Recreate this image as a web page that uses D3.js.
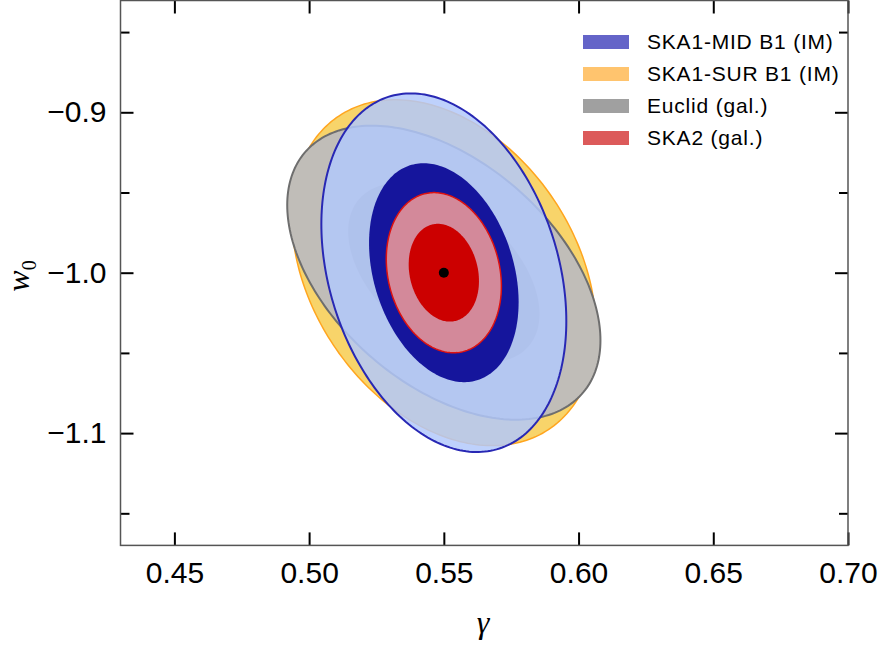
<!DOCTYPE html>
<html>
<head>
<meta charset="utf-8">
<script src="https://cdn.jsdelivr.net/npm/d3@7"></script>
<style>
body { margin: 0; background: #fff; }
text { font-family: "Liberation Sans", Arial, sans-serif; }
</style>
</head>
<body>
<svg id="chart" width="883" height="651"></svg>
<script>
// forecast errors (centre is the fiducial model)
var experiments = ["SKA1-SUR B1 (IM)", "Euclid (gal.)", "SKA1-MID B1 (IM)", "SKA2 (gal.)"];
var sigmaGamma = [0.0227, 0.0234, 0.0183, 0.0086];
var sigmaW0 = [0.0434, 0.0369, 0.0450, 0.0201];
var rho = [-0.32, -0.46, -0.27, -0.17];
var fiducialGamma = 0.55, fiducialW0 = -1.0;
var chi2Levels = [6.17, 2.30];   // 2 sigma then 1 sigma, two parameters

var legendOrder = ["SKA1-MID B1 (IM)", "SKA1-SUR B1 (IM)", "Euclid (gal.)", "SKA2 (gal.)"];
var xTicks = [0.45, 0.50, 0.55, 0.60, 0.65, 0.70];
var yTicks = [-0.9, -1.0, -1.1];
var yMinorTicks = [-0.85, -0.95, -1.05, -1.15];

var styles = {
    "SKA1-SUR B1 (IM)": { outer: "#f8d46a", inner: "#f0b845", stroke: "#ffa51f", width: 1.5, opacity: 1, swatch: "#ffc46e" },
    "Euclid (gal.)":    { outer: "#c0bdb8", inner: "#a3a09a", stroke: "#6e6e6e", width: 2, opacity: 1, swatch: "#a0a0a0" },
    "SKA1-MID B1 (IM)": { outer: "#b2c8fb", inner: "#15159c", stroke: "#2828b4", width: 2, opacity: 0.84, swatch: "#6464c8" },
    "SKA2 (gal.)":      { outer: "#d3899a", inner: "#cc0000", stroke: "#dd1111", width: 1.5, opacity: 1, swatch: "#dc5a5a" }
};

var svg = d3.select('#chart');
var pLeft = 120.5, pRight = 848, pTop = 0.5, pBottom = 545.4;

var x = d3.scaleLinear().domain([0.43, 0.70]).range([pLeft, pRight]);
var y = d3.scaleLinear().domain([-0.83, -1.17]).range([0, pBottom]);

svg.append("clipPath").attr("id", "plotclip")
    .append("rect")
    .attr("x", pLeft).attr("y", pTop)
    .attr("width", pRight - pLeft).attr("height", pBottom - pTop);

function ellipse(i, k) {
    var r = Math.sqrt(k), pts = [];
    var s = Math.sqrt(1 - rho[i] * rho[i]);
    for (var j = 0; j < 240; j++) {
        var t = 2 * Math.PI * j / 240;
        pts.push([fiducialGamma + r * sigmaGamma[i] * Math.cos(t),
                  fiducialW0 + r * sigmaW0[i] * (rho[i] * Math.cos(t) + s * Math.sin(t))]);
    }
    return pts;
}

var line = d3.line()
    .x(function (d) { return x(d[0]); })
    .y(function (d) { return y(d[1]); })
    .curve(d3.curveLinearClosed);

var plot = svg.append("g").attr("clip-path", "url(#plotclip)");

experiments.forEach(function (name, i) {
    var st = styles[name];
    var g = plot.append("g");
    g.append("path")
        .attr("d", line(ellipse(i, chi2Levels[0])))
        .attr("fill", st.outer)
        .attr("fill-opacity", st.opacity)
        .attr("stroke", st.stroke)
        .attr("stroke-width", st.width);
    g.append("path")
        .attr("d", line(ellipse(i, chi2Levels[1])))
        .attr("fill", st.inner)
        .attr("stroke", "none");
});

plot.append("circle")
    .attr("cx", x(fiducialGamma))
    .attr("cy", y(fiducialW0))
    .attr("r", 5)
    .attr("fill", "black");

// axes, ticks pointing into the frame on all four sides
var fmt = d3.format(".1f");
var fmt2 = d3.format(".2f");

var gb = svg.append("g").attr("transform", "translate(0," + pBottom + ")")
    .call(d3.axisBottom(x).tickValues(xTicks).tickSize(-13).tickSizeOuter(0).tickPadding(16).tickFormat(fmt2));
var gt = svg.append("g").attr("transform", "translate(0," + pTop + ")")
    .call(d3.axisTop(x).tickValues(xTicks).tickSize(-13).tickSizeOuter(0).tickFormat(""));
var gl = svg.append("g").attr("transform", "translate(" + pLeft + ",0)")
    .call(d3.axisLeft(y).tickValues(yTicks).tickSize(-13).tickSizeOuter(0).tickPadding(14).tickFormat(fmt));
var glm = svg.append("g").attr("transform", "translate(" + pLeft + ",0)")
    .call(d3.axisLeft(y).tickValues(yMinorTicks).tickSize(-9).tickSizeOuter(0).tickFormat(""));
var gr = svg.append("g").attr("transform", "translate(" + pRight + ",0)")
    .call(d3.axisRight(y).tickValues(yTicks).tickSize(-13).tickSizeOuter(0).tickFormat(""));
var grm = svg.append("g").attr("transform", "translate(" + pRight + ",0)")
    .call(d3.axisRight(y).tickValues(yMinorTicks).tickSize(-9).tickSizeOuter(0).tickFormat(""));

[gb, gt, gl, glm, gr, grm].forEach(function (g) {
    g.select(".domain").remove();
    g.selectAll(".tick line").attr("stroke", "black").attr("stroke-width", 2);
    g.selectAll(".tick text")
        .attr("fill", "black")
        .style("font-family", "'Liberation Sans', Arial, sans-serif")
        .style("font-size", "30px");
});

svg.append("rect")
    .attr("x", pLeft).attr("y", pTop)
    .attr("width", pRight - pLeft).attr("height", pBottom - pTop)
    .attr("fill", "none")
    .attr("stroke", "#555")
    .attr("stroke-width", 1.5);

// axis titles
svg.append("text")
    .attr("x", 483)
    .attr("y", 633)
    .attr("text-anchor", "middle")
    .style("font-family", "'Liberation Serif', 'Times New Roman', serif")
    .style("font-style", "italic")
    .style("font-size", "32px")
    .text("γ");

var wl = svg.append("text")
    .attr("transform", "translate(29,276) rotate(-90)")
    .attr("text-anchor", "middle")
    .style("font-family", "'Liberation Serif', 'Times New Roman', serif")
    .style("font-size", "32px");
wl.append("tspan").style("font-style", "italic").text("w");
wl.append("tspan").attr("dy", 7).style("font-size", "20px").text("0");

// legend
var legend = svg.append("g");
legend.selectAll("rect")
    .data(legendOrder)
    .enter()
    .append("rect")
    .attr("x", 583)
    .attr("y", function (d, i) { return 42 + i * 32 - 7; })
    .attr("width", 46)
    .attr("height", 14)
    .attr("fill", function (d) { return styles[d].swatch; });
legend.selectAll("text")
    .data(legendOrder)
    .enter()
    .append("text")
    .attr("x", 647)
    .attr("y", function (d, i) { return 42 + i * 32; })
    .attr("dy", "0.35em")
    .style("font-size", "21px")
    .style("letter-spacing", "0.8px")
    .attr("fill", "black")
    .text(function (d) { return d; });
</script>
</body>
</html>
